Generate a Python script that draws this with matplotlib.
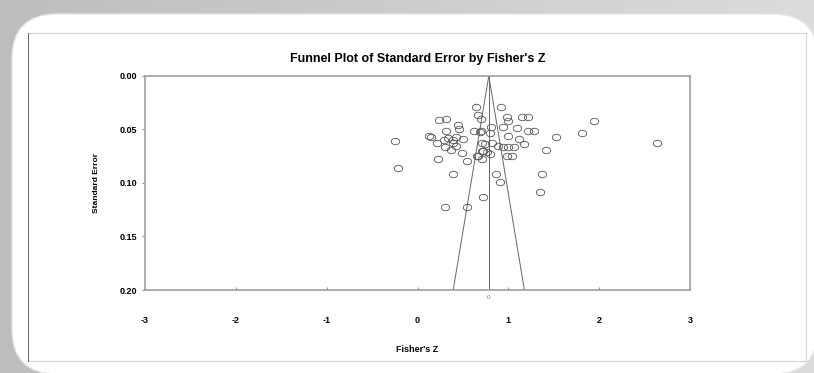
import numpy as np
import matplotlib
matplotlib.use("Agg")
import matplotlib.pyplot as plt
from matplotlib.patches import FancyBboxPatch, Rectangle
from matplotlib.path import Path
from matplotlib.transforms import blended_transform_factory

plt.rcParams['font.family'] = ['Liberation Sans', 'DejaVu Sans']

# Fisher's Z of each study and its standard error
fisher_z = [-0.25, -0.21, 0.24, 0.31, 0.64, 0.67, 0.70, 0.45, 0.46, 0.31,
            0.13, 0.15, 0.21, 0.29, 0.34, 0.39, 0.42, 0.50, 0.30, 0.37,
            0.42, 0.39, 0.49, 0.23, 0.55, 0.62, 0.69, 0.71, 0.72, 0.66,
            0.71, 0.92, 0.98, 1.00, 0.94, 1.15, 1.22, 1.10, 1.22, 1.28,
            1.00, 1.12, 1.17, 1.52, 1.41, 0.70, 0.80, 0.81, 0.74, 0.82,
            0.89, 0.94, 0.71, 0.77, 0.80, 1.00, 1.06, 0.99, 1.04, 0.67,
            0.30, 0.55, 0.72, 0.39, 0.86, 0.91, 1.37, 1.35, 1.94, 1.81,
            2.64]
std_err = [0.061, 0.086, 0.041, 0.040, 0.029, 0.036, 0.040, 0.046, 0.050, 0.051,
           0.056, 0.057, 0.063, 0.060, 0.058, 0.060, 0.057, 0.059, 0.066, 0.069,
           0.065, 0.063, 0.072, 0.078, 0.079, 0.051, 0.052, 0.063, 0.070, 0.075,
           0.078, 0.029, 0.038, 0.042, 0.048, 0.038, 0.038, 0.049, 0.051, 0.051,
           0.056, 0.059, 0.064, 0.057, 0.069, 0.051, 0.053, 0.048, 0.064, 0.063,
           0.065, 0.066, 0.070, 0.071, 0.073, 0.066, 0.066, 0.075, 0.075, 0.075,
           0.122, 0.122, 0.113, 0.092, 0.092, 0.099, 0.092, 0.108, 0.042, 0.053,
           0.063]

mean_z = 0.785
se_max = 0.20

fig = plt.figure(figsize=(8.14, 3.73), dpi=100)
fig.patch.set_facecolor('#d4d4d4')

# fondo: marco gris y panel blanco redondeado
bg = fig.add_axes([0, 0, 1, 1], zorder=-5)
bg.set_xlim(0, 814)
bg.set_ylim(373, 0)
bg.axis('off')
grad = np.linspace(0.74, 0.86, 200)[None, :] * np.ones((50, 1))
bg.imshow(grad, cmap='gray', vmin=0, vmax=1, extent=[0, 814, 373, 0], aspect='auto')
bg.add_patch(FancyBboxPatch((12, 14), 806, 360,
                            boxstyle='round,pad=0,rounding_size=45',
                            facecolor='white', edgecolor='#e6e6e6', linewidth=1))
bg.add_patch(Rectangle((28, 33), 778, 328, facecolor='none',
                       edgecolor='#d2d2d2', linewidth=0.8))
bg.plot([28, 28], [33, 361], color='#555555', linewidth=0.6)

ax = fig.add_axes([145 / 814, 83 / 373, 545 / 814, 214 / 373])
ax.set_xlim(-3, 3)
ax.set_ylim(se_max, 0)

# línea media y embudo al 95%
line_kw = dict(color='#666666', linewidth=0.7)
ax.plot([mean_z, mean_z], [0, se_max], **line_kw)
ax.plot([mean_z, mean_z - 1.96 * se_max], [0, se_max], **line_kw)
ax.plot([mean_z, mean_z + 1.96 * se_max], [0, se_max], **line_kw)

# circulos algo achatados como en el original
t = np.linspace(0, 2 * np.pi, 40)
elipse = Path(np.column_stack([np.cos(t), 0.78 * np.sin(t)]))
ax.plot(fisher_z, std_err, linestyle='none', marker=elipse, markersize=6,
        markerfacecolor='none', markeredgecolor='#555555', markeredgewidth=0.6)

for s in ax.spines.values():
    s.set_color('#a0a0a0')
    s.set_linewidth(1.2)

ax.set_yticks([0.00, 0.05, 0.10, 0.15, 0.20])
ax.set_yticklabels(['0.00', '0.05', '0.10', '0.15', '0.20'])
ax.set_xticks([-3, -2, -1, 0, 1, 2, 3])
ax.set_xticklabels(['-3', '-2', '-1', '0', '1', '2', '3'])
ax.tick_params(axis='y', direction='out', length=2.5, width=0.6, color='#777777',
               pad=3, labelsize=6.5)
ax.tick_params(axis='x', direction='in', length=2.5, width=0.6, color='#777777',
               pad=19, labelsize=6.5)
for lab in ax.get_xticklabels() + ax.get_yticklabels():
    lab.set_fontweight('bold')

trans = blended_transform_factory(ax.transData, ax.transAxes)
ax.text(mean_z, -0.025, '0', transform=trans, fontsize=4.5, color='#777777',
        ha='center', va='top')

ax.set_title("Funnel Plot of Standard Error by Fisher's Z", fontsize=9,
             fontweight='bold', pad=10)
ax.set_xlabel("Fisher's Z", fontsize=6.5, fontweight='bold', labelpad=14)
ax.set_ylabel('Standard Error', fontsize=6, fontweight='bold', labelpad=14)

fig.savefig('out.png', dpi=100, facecolor=fig.get_facecolor())
